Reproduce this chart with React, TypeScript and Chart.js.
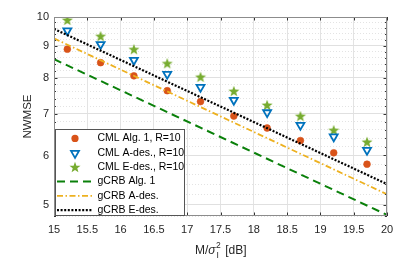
import React, { useEffect, useRef } from "react";
import { Chart, registerables } from "chart.js";

Chart.register(...registerables);

// ---- data ----
const X_VALUES = [15.2, 15.7, 16.2, 16.7, 17.2, 17.7, 18.2, 18.7, 19.2, 19.7];
const CML_ALG1 = [8.88, 8.45, 8.05, 7.62, 7.32, 6.94, 6.64, 6.34, 6.06, 5.81];
const CML_ADES = [9.51, 9.04, 8.53, 8.1, 7.72, 7.36, 7.03, 6.71, 6.43, 6.12];
const CML_EDES = [9.89, 9.32, 8.88, 8.43, 8.02, 7.61, 7.23, 6.94, 6.59, 6.31];
const LINE_X = [15, 20];
const GCRB_ALG1 = [8.56, 4.82];
const GCRB_ADES = [9.24, 5.2];
const GCRB_EDES = [9.57, 5.4];
const X_TICKS = [15, 15.5, 16, 16.5, 17, 17.5, 18, 18.5, 19, 19.5, 20];
const Y_MAJOR = [5, 6, 7, 8, 9, 10];
const Y_MINOR = [4.8, 5.2, 5.4, 5.6, 5.8, 6.2, 6.4, 6.6, 6.8, 7.2, 7.4, 7.6, 7.8, 8.2, 8.4, 8.6, 8.8, 9.2, 9.4, 9.6, 9.8];
const LABELS = [
  "CML Alg. 1, R=10",
  "CML A-des., R=10",
  "CML E-des., R=10",
  "gCRB Alg. 1",
  "gCRB A-des.",
  "gCRB E-des.",
];

const FONT = '"Liberation Sans", Arial, Helvetica, sans-serif';
const C_ALG1 = "#D95319";
const C_ADES = "#0072BD";
const C_EDES = "#77AC30";
const C_G1 = "#0a800a";
const C_GA = "#EDB120";
const C_GE = "#000000";

const DASH_G1 = [8, 5];
const DASH_GA = [6, 2.5, 1.5, 2.5];
const DASH_GE = [2, 1.6];

function drawStar(g: CanvasRenderingContext2D, x: number, y: number, R: number, r: number, color: string) {
  g.beginPath();
  for (let k = 0; k < 10; k++) {
    const rad = k % 2 === 0 ? R : r;
    const a = -Math.PI / 2 + (k * Math.PI) / 5;
    const px = x + rad * Math.cos(a);
    const py = y + rad * Math.sin(a);
    if (k === 0) g.moveTo(px, py);
    else g.lineTo(px, py);
  }
  g.closePath();
  g.fillStyle = color;
  g.fill();
}

function makeStarCanvas(color: string, R: number, r: number) {
  const size = Math.ceil(R * 2 + 2);
  const c = document.createElement("canvas");
  c.width = size;
  c.height = size;
  const g = c.getContext("2d")!;
  drawStar(g, size / 2, size / 2 + 0.5, R, r, color);
  return c;
}

function drawTriDown(g: CanvasRenderingContext2D, x: number, y: number, r: number, color: string, lw: number) {
  g.beginPath();
  g.moveTo(x, y + r);
  g.lineTo(x - r * 0.866, y - r * 0.5);
  g.lineTo(x + r * 0.866, y - r * 0.5);
  g.closePath();
  g.strokeStyle = color;
  g.lineWidth = lw;
  g.setLineDash([]);
  g.stroke();
}

const decor = {
  id: "decor",
  afterDraw(chart: any) {
    const { ctx, chartArea: a, scales } = chart;
    const xs = scales.x;
    const ys = scales.y;
    ctx.save();
    ctx.setLineDash([]);
    // tick marks (inward)
    ctx.strokeStyle = "#333333";
    ctx.lineWidth = 1;
    ctx.beginPath();
    X_TICKS.forEach((v) => {
      const px = Math.round(xs.getPixelForValue(v)) + 0.5;
      ctx.moveTo(px, a.bottom);
      ctx.lineTo(px, a.bottom - 3.5);
      ctx.moveTo(px, a.top);
      ctx.lineTo(px, a.top + 3.5);
    });
    Y_MAJOR.forEach((v) => {
      const py = Math.round(ys.getPixelForValue(v)) + 0.5;
      ctx.moveTo(a.left, py);
      ctx.lineTo(a.left + 3.5, py);
      ctx.moveTo(a.right, py);
      ctx.lineTo(a.right - 3.5, py);
    });
    Y_MINOR.forEach((v) => {
      const py = Math.round(ys.getPixelForValue(v)) + 0.5;
      ctx.moveTo(a.left, py);
      ctx.lineTo(a.left + 2, py);
      ctx.moveTo(a.right, py);
      ctx.lineTo(a.right - 2, py);
    });
    ctx.stroke();
    // box
    ctx.strokeStyle = "#8c8c8c";
    ctx.strokeRect(Math.round(a.left) + 0.5, Math.round(a.top) + 0.5, Math.round(a.right - a.left) - 1, Math.round(a.bottom - a.top) - 1);

    // legend
    const lx = 55.5, ly = 129.5, lw = 129, lh = Math.round(a.bottom) - 130;
    ctx.fillStyle = "#ffffff";
    ctx.fillRect(lx, ly, lw, lh);
    ctx.strokeStyle = "#555555";
    ctx.lineWidth = 1;
    ctx.strokeRect(lx, ly, lw, lh);
    ctx.font = `10.5px ${FONT}`;
    ctx.textBaseline = "middle";
    ctx.textAlign = "left";
    LABELS.forEach((lab, i) => {
      const y = 138.4 + i * 14.35;
      const mx = 75;
      if (i === 0) {
        ctx.beginPath();
        ctx.arc(mx, y, 3.6, 0, Math.PI * 2);
        ctx.fillStyle = C_ALG1;
        ctx.fill();
      } else if (i === 1) {
        drawTriDown(ctx, mx, y + 0.5, 4.6, C_ADES, 1.8);
      } else if (i === 2) {
        drawStar(ctx, mx, y + 0.5, 5.8, 2.4, C_EDES);
      } else {
        const dash = i === 3 ? DASH_G1 : i === 4 ? DASH_GA : DASH_GE;
        const col = i === 3 ? C_G1 : i === 4 ? C_GA : C_GE;
        ctx.beginPath();
        ctx.setLineDash(dash);
        ctx.lineCap = "butt";
        ctx.strokeStyle = col;
        ctx.lineWidth = i === 5 ? 2.2 : i === 3 ? 2 : 1.8;
        ctx.moveTo(57, y);
        ctx.lineTo(93, y);
        ctx.stroke();
        ctx.setLineDash([]);
      }
      ctx.fillStyle = "#000000";
      ctx.fillText(lab, 97.5, y);
    });

    // axis titles
    ctx.fillStyle = "#262626";
    ctx.textBaseline = "alphabetic";
    const f = `12px ${FONT}`;
    const fi = `italic 12px ${FONT}`;
    const fs = `8.5px ${FONT}`;
    ctx.font = f;
    const w1 = ctx.measureText("M/").width;
    const w3 = ctx.measureText(" [dB]").width;
    ctx.font = fi;
    const w2 = ctx.measureText("σ").width;
    ctx.font = fs;
    const w4 = Math.max(ctx.measureText("2").width, ctx.measureText("I").width) + 1;
    const total = w1 + w2 + w4 + w3;
    const cx = (a.left + a.right) / 2;
    let x = cx - total / 2;
    const by = 254;
    ctx.font = f;
    ctx.fillText("M/", x, by);
    x += w1;
    ctx.font = fi;
    ctx.fillText("σ", x, by);
    x += w2 + 0.5;
    ctx.font = fs;
    ctx.fillText("2", x, by - 6);
    ctx.fillText("I", x + 0.5, by + 3.5);
    x += w4;
    ctx.font = f;
    ctx.fillText(" [dB]", x, by);

    ctx.save();
    ctx.translate(30.5, (a.top + a.bottom) / 2);
    ctx.rotate(-Math.PI / 2);
    ctx.textAlign = "center";
    ctx.font = `11.5px ${FONT}`;
    ctx.fillText("NWMSE", 0, 0);
    ctx.restore();

    ctx.restore();
  },
};

export default function App() {
  const ref = useRef<HTMLCanvasElement>(null);
  useEffect(() => {
    document.body.style.margin = "0";
    const starImg = makeStarCanvas(C_EDES, 5.8, 2.4);
    const pts = (ys: number[]) => X_VALUES.map((x, i) => ({ x, y: ys[i] }));
    const lpts = (ys: number[]) => LINE_X.map((x, i) => ({ x, y: ys[i] }));
    const chart = new Chart(ref.current!, {
      type: "line",
      data: {
        datasets: [
          {
            label: LABELS[3],
            data: lpts(GCRB_ALG1),
            borderColor: C_G1,
            borderWidth: 2,
            borderDash: DASH_G1,
            pointRadius: 0,
            order: 0,
          },
          {
            label: LABELS[4],
            data: lpts(GCRB_ADES),
            borderColor: C_GA,
            borderWidth: 1.8,
            borderDash: DASH_GA,
            pointRadius: 0,
            order: 0,
          },
          {
            label: LABELS[5],
            data: lpts(GCRB_EDES),
            borderColor: C_GE,
            borderWidth: 2.2,
            borderDash: DASH_GE,
            borderCapStyle: "butt",
            pointRadius: 0,
            order: 0,
          },
          {
            label: LABELS[0],
            data: pts(CML_ALG1),
            showLine: false,
            pointStyle: "circle",
            pointRadius: 3.4,
            pointBorderWidth: 0.6,
            pointBackgroundColor: C_ALG1,
            pointBorderColor: C_ALG1,
            order: 1,
          },
          {
            label: LABELS[1],
            data: pts(CML_ADES),
            showLine: false,
            pointStyle: "triangle",
            pointRotation: 180,
            pointRadius: 4.6,
            pointBorderWidth: 1.8,
            pointBackgroundColor: "rgba(0,0,0,0)",
            pointBorderColor: C_ADES,
            order: 1,
          },
          {
            label: LABELS[2],
            data: pts(CML_EDES),
            showLine: false,
            pointStyle: starImg as any,
            pointRadius: 6,
            order: 1,
          },
        ],
      },
      options: {
        animation: false,
        responsive: false,
        devicePixelRatio: 1,
        layout: { padding: { left: 0, top: 17, right: 22, bottom: 0 } },
        plugins: { legend: { display: false }, tooltip: { enabled: false } },
        scales: {
          x: {
            type: "linear",
            min: 15,
            max: 20,
            afterBuildTicks: (s: any) => {
              s.ticks = X_TICKS.map((v) => ({ value: v }));
            },
            afterFit: (s: any) => {
              s.height = 54;
            },
            ticks: {
              autoSkip: false,
              maxRotation: 0,
              padding: 7,
              color: "#262626",
              font: { family: FONT, size: 11 },
              callback: (v: any) => String(v),
            },
            grid: { color: "#e3e3e3", lineWidth: 1, drawTicks: false },
            border: { display: false },
          },
          y: {
            type: "logarithmic",
            min: 4.8,
            max: 10,
            afterBuildTicks: (s: any) => {
              const all = [...Y_MINOR, ...Y_MAJOR].sort((p, q) => p - q);
              s.ticks = all.map((v) => ({ value: v, major: Y_MAJOR.includes(v) }));
            },
            afterFit: (s: any) => {
              s.width = 54;
            },
            ticks: {
              autoSkip: false,
              padding: 5,
              color: "#262626",
              font: { family: FONT, size: 11 },
              callback: (v: any) => (Y_MAJOR.includes(Number(v)) ? String(v) : ""),
            },
            grid: {
              drawTicks: false,
              lineWidth: 1,
              color: (c: any) =>
                c.tick && Y_MAJOR.includes(c.tick.value) ? "#e0e0e0" : "#e3e3e3",
            },
            border: {
              display: false,
              dash: (c: any) =>
                c.tick && !Y_MAJOR.includes(c.tick.value) ? [1, 2] : [],
            },
          },
        },
      },
      plugins: [decor],
    } as any);
    return () => chart.destroy();
  }, []);
  return (
    <div style={{ width: 409, height: 270 }}>
      <canvas ref={ref} width={409} height={270} style={{ display: "block" }} />
    </div>
  );
}
